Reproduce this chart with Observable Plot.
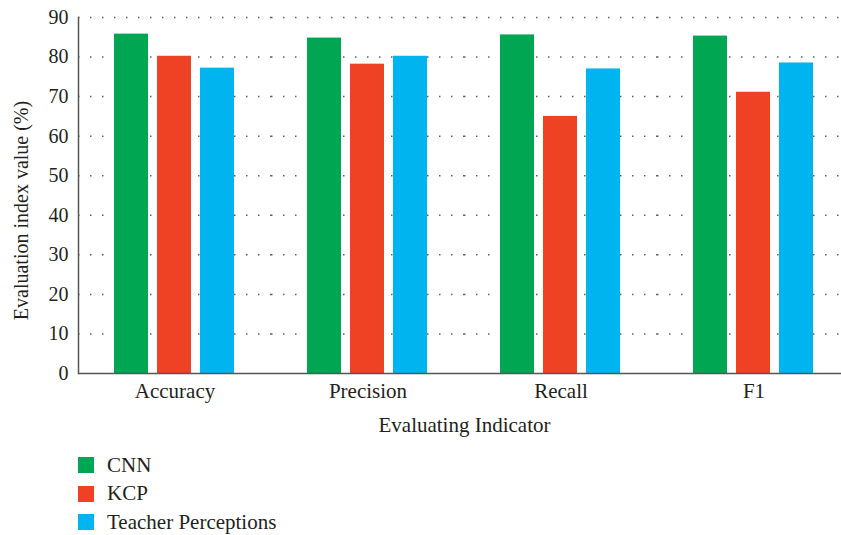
<!DOCTYPE html>
<html><head><meta charset="utf-8">
<script src="https://cdn.jsdelivr.net/npm/d3@7"></script>
<script src="https://cdn.jsdelivr.net/npm/@observablehq/plot@0.6"></script>
<style>
body{margin:0;background:#fff;overflow:hidden;font-family:"Liberation Serif",serif;color:#231f20;}
#chart{width:841px;height:440px;overflow:hidden;position:absolute;left:0;top:0;}
#chart svg{max-width:none !important;}
#legend{position:absolute;left:78px;top:451px;font-size:21px;}
.row{display:flex;align-items:center;height:28.5px;}
.sw{width:16px;height:16px;margin-right:13px;}
</style></head><body>
<div id="chart"></div>
<div id="legend"></div>
<script>
const indicators = ["Accuracy", "Precision", "Recall", "F1"];
const models = ["CNN", "KCP", "Teacher Perceptions"];
const cnn = [85.8, 84.8, 85.6, 85.3];
const kcp = [80.2, 78.2, 65.0, 71.1];
const teacher = [77.2, 80.2, 77.0, 78.5];
const yTicks = [0, 10, 20, 30, 40, 50, 60, 70, 80, 90];
const colors = ["#00a651", "#ef4123", "#00b4ef"];

const series = [cnn, kcp, teacher];
const data = indicators.flatMap((ind, i) =>
  models.map((m, j) => ({indicator: ind, model: m, value: series[j][i]})));

const plot = Plot.plot({
  width: 850, height: 440,
  marginLeft: 78, marginRight: 0, marginTop: 17, marginBottom: 67,
  style: {fontFamily: "Liberation Serif, serif", fontSize: "20px", color: "#231f20", background: "white", maxWidth: "none"},
  fx: {domain: indicators, paddingInner: 0, paddingOuter: 0, axis: null},
  x: {domain: models, paddingInner: 0.209, paddingOuter: 0.845, axis: null},
  y: {domain: [0, 90]},
  color: {domain: models, range: colors},
  marks: [
    Plot.gridY(yTicks.filter(t => t > 0), {stroke: "#444", strokeOpacity: 0.85, strokeWidth: 1.5, strokeDasharray: "1.5,10.5"}),
    Plot.barY(data, {fx: "indicator", x: "model", y: "value", fill: "model"}),
    Plot.axisY(yTicks, {tickSize: 0, tickPadding: 10, label: null, fill: "#231f20"}),
    Plot.axisFx({anchor: "bottom", tickSize: 0, tickPadding: 10, label: "Evaluating Indicator", labelAnchor: "center", labelOffset: 58, fill: "#231f20", fontSize: 21}),
    Plot.text(["Evaluation index value (%)"], {frameAnchor: "left", textAnchor: "middle", rotate: -90, dx: -57, dy: 15, facetAnchor: "left", fill: "#231f20", fontSize: 20}),
    Plot.frame({anchor: "left", facetAnchor: "left", stroke: "#555", strokeWidth: 1.5}),
    Plot.ruleY([0], {stroke: "#555", strokeWidth: 1.5})
  ]
});
document.getElementById("chart").appendChild(plot);

const legend = document.getElementById("legend");
models.forEach((m, i) => {
  const row = document.createElement("div");
  row.className = "row";
  const sw = document.createElement("div");
  sw.className = "sw";
  sw.style.background = colors[i];
  const lab = document.createElement("span");
  lab.textContent = m;
  row.appendChild(sw); row.appendChild(lab);
  legend.appendChild(row);
});
</script>
</body></html>
